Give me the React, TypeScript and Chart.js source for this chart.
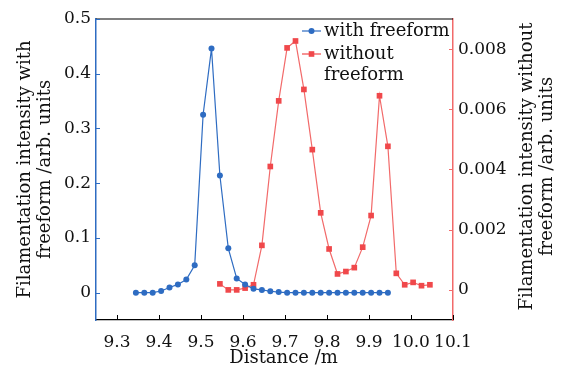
import React, { useEffect, useRef } from 'react';
import { Chart, registerables } from 'chart.js';

Chart.register(...registerables);

// ---- data ----
const X_WITH = [
  9.345, 9.365, 9.385, 9.405, 9.425, 9.445, 9.465, 9.485, 9.505, 9.525, 9.545,
  9.565, 9.585, 9.605, 9.625, 9.645, 9.665, 9.685, 9.705, 9.725, 9.745, 9.765,
  9.785, 9.805, 9.825, 9.845, 9.865, 9.885, 9.905, 9.925, 9.945,
];
const Y_WITH = [
  0, 0, 0, 0.003, 0.0095, 0.015, 0.024, 0.05, 0.325, 0.446, 0.214,
  0.081, 0.026, 0.015, 0.007, 0.005, 0.0025, 0.001, 0, 0, 0, 0,
  0, 0, 0, 0, 0, 0, 0, 0, 0,
];
const X_WITHOUT = [
  9.545, 9.565, 9.585, 9.605, 9.625, 9.645, 9.665, 9.685, 9.705, 9.725, 9.745,
  9.765, 9.785, 9.805, 9.825, 9.845, 9.865, 9.885, 9.905, 9.925, 9.945, 9.965,
  9.985, 10.005, 10.025, 10.045,
];
const Y_WITHOUT = [
  0.0002, 0.0, 0.0, 0.00006, 0.00017, 0.00148, 0.0041, 0.00628, 0.00804, 0.00827, 0.00666,
  0.00466, 0.00256, 0.00136, 0.00053, 0.00061, 0.00074, 0.00142, 0.00247, 0.00645, 0.00477, 0.00055,
  0.00017, 0.00025, 0.00014, 0.00017,
];
const X_TICKS = [9.3, 9.4, 9.5, 9.6, 9.7, 9.8, 9.9, 10.0, 10.1];
const X_TICK_LABELS = ['9.3', '9.4', '9.5', '9.6', '9.7', '9.8', '9.9', '10.0', '10.1'];
const Y_LEFT_TICKS = [0, 0.1, 0.2, 0.3, 0.4, 0.5];
const Y_LEFT_LABELS = ['0', '0.1', '0.2', '0.3', '0.4', '0.5'];
const Y_RIGHT_TICKS = [0, 0.002, 0.004, 0.006, 0.008];
const Y_RIGHT_LABELS = ['0', '0.002', '0.004', '0.006', '0.008'];
const SERIES_NAMES = ['with freeform', 'without freeform'];
const LEGEND_LINES = [['with freeform'], ['without', 'freeform']];
const X_TITLE = 'Distance /m';
const LEFT_TITLE = ['Filamentation intensity with', 'freeform /arb. units'];
const RIGHT_TITLE = ['Filamentation intensity without', 'freeform /arb. units'];

// ---- style ----
const FONT = 'DejaVu Serif';
const BLUE = '#2e6cc2';
const RED = '#f0484b';
const RED_AXIS = '#f26a6a';
const W = 565;
const H = 371;

export default function App() {
  const ref = useRef<HTMLCanvasElement | null>(null);

  useEffect(() => {
    const canvas = ref.current;
    if (!canvas) return;

    const decor = {
      id: 'decor',
      afterDraw(chart: any) {
        const { ctx, chartArea: ca, scales } = chart;
        ctx.save();
        // top frame
        ctx.strokeStyle = '#000';
        ctx.lineWidth = 1.2;
        ctx.beginPath();
        ctx.moveTo(ca.left, ca.top);
        ctx.lineTo(ca.right, ca.top);
        ctx.stroke();
        // inward tick marks
        ctx.lineWidth = 1;
        ctx.strokeStyle = '#000';
        X_TICKS.forEach((v) => {
          const px = Math.round(scales.x.getPixelForValue(v)) + 0.5;
          ctx.beginPath();
          ctx.moveTo(px, ca.bottom);
          ctx.lineTo(px, ca.bottom - 5);
          ctx.stroke();
        });
        ctx.strokeStyle = BLUE;
        Y_LEFT_TICKS.forEach((v) => {
          const py = Math.round(scales.y.getPixelForValue(v)) + 0.5;
          ctx.beginPath();
          ctx.moveTo(ca.left, py);
          ctx.lineTo(ca.left + 4, py);
          ctx.stroke();
        });
        ctx.strokeStyle = RED_AXIS;
        Y_RIGHT_TICKS.forEach((v) => {
          const py = Math.round(scales.y1.getPixelForValue(v)) + 0.5;
          ctx.beginPath();
          ctx.moveTo(ca.right, py);
          ctx.lineTo(ca.right - 4, py);
          ctx.stroke();
        });

        ctx.fillStyle = '#111';
        ctx.font = `18px "${FONT}"`;
        ctx.textAlign = 'center';
        ctx.textBaseline = 'middle';
        // x axis title
        ctx.fillText(X_TITLE, (ca.left + ca.right) / 2 + 9, 358);

        // right axis title (reads bottom to top)
        ctx.save();
        ctx.translate(527, (ca.top + ca.bottom) / 2 - 3);
        ctx.rotate(-Math.PI / 2);
        RIGHT_TITLE.forEach((t, i) => ctx.fillText(t, 0, i * 20));
        ctx.restore();

        // legend
        const lx0 = 302;
        const lx1 = 321;
        const tx = 324;
        const rows = [31, 54];
        const lh = 21;
        const colors = [BLUE, RED];
        ctx.textAlign = 'left';
        LEGEND_LINES.forEach((lines, i) => {
          const y = rows[i];
          ctx.strokeStyle = colors[i];
          ctx.lineWidth = 1.2;
          ctx.beginPath();
          ctx.moveTo(lx0, y);
          ctx.lineTo(lx1, y);
          ctx.stroke();
          ctx.fillStyle = colors[i];
          const cx = (lx0 + lx1) / 2;
          if (i === 0) {
            ctx.beginPath();
            ctx.arc(cx, y, 3, 0, Math.PI * 2);
            ctx.fill();
          } else {
            ctx.fillRect(cx - 2.8, y - 2.8, 5.6, 5.6);
          }
          ctx.fillStyle = '#111';
          lines.forEach((t, j) => ctx.fillText(t, tx, y + j * lh));
        });
        ctx.restore();
      },
    };

    const tickFont = { family: FONT, size: 17 };
    const titleFont = { family: FONT, size: 18, lineHeight: 1.12 };

    const chart = new Chart(canvas, {
      type: 'line',
      data: {
        datasets: [
          {
            label: SERIES_NAMES[0],
            data: X_WITH.map((x, i) => ({ x, y: Y_WITH[i] })),
            yAxisID: 'y',
            borderColor: BLUE,
            backgroundColor: BLUE,
            borderWidth: 1.2,
            pointRadius: 3,
            pointBorderWidth: 0,
            pointStyle: 'circle',
            tension: 0,
          },
          {
            label: SERIES_NAMES[1],
            data: X_WITHOUT.map((x, i) => ({ x, y: Y_WITHOUT[i] })),
            yAxisID: 'y1',
            borderColor: RED_AXIS,
            backgroundColor: RED,
            borderWidth: 1.2,
            pointRadius: 4,
            pointBorderWidth: 0,
            pointStyle: 'rect',
            tension: 0,
          },
        ],
      },
      options: {
        animation: false,
        responsive: false,
        maintainAspectRatio: false,
        devicePixelRatio: 1,
        layout: { padding: { top: 19, left: 0, right: 0, bottom: 0 } },
        plugins: {
          legend: { display: false },
          tooltip: { enabled: false },
          title: { display: false },
        },
        scales: {
          x: {
            type: 'linear',
            position: 'bottom',
            min: 9.25,
            max: 10.1,
            afterBuildTicks: (s: any) => {
              s.ticks = X_TICKS.map((v) => ({ value: v }));
            },
            afterFit: (s: any) => {
              s.height = 51;
            },
            ticks: {
              font: tickFont,
              color: '#111',
              padding: 12,
              maxRotation: 0,
              autoSkip: false,
              callback: (v: any) => {
                const i = X_TICKS.findIndex((t) => Math.abs(t - v) < 1e-6);
                return i >= 0 ? X_TICK_LABELS[i] : '';
              },
            },
            grid: { display: false, drawTicks: false },
            border: { display: true, color: '#000', width: 1.2 },
            title: { display: false },
          },
          y: {
            type: 'linear',
            position: 'left',
            min: -0.05,
            max: 0.5,
            afterBuildTicks: (s: any) => {
              s.ticks = Y_LEFT_TICKS.map((v) => ({ value: v }));
            },
            afterFit: (s: any) => {
              s.width = 96;
            },
            ticks: {
              font: tickFont,
              color: '#111',
              padding: 5,
              autoSkip: false,
              callback: (v: any) => {
                const i = Y_LEFT_TICKS.findIndex((t) => Math.abs(t - v) < 1e-9);
                return i >= 0 ? Y_LEFT_LABELS[i] : '';
              },
            },
            grid: { display: false, drawTicks: false },
            border: { display: true, color: BLUE, width: 1.5 },
            title: {
              display: true,
              text: LEFT_TITLE,
              font: titleFont,
              color: '#111',
              padding: { top: 15, bottom: 0 },
            },
          },
          y1: {
            type: 'linear',
            position: 'right',
            min: -0.001,
            max: 0.009,
            afterBuildTicks: (s: any) => {
              s.ticks = Y_RIGHT_TICKS.map((v) => ({ value: v }));
            },
            afterFit: (s: any) => {
              s.width = 112;
            },
            ticks: {
              font: tickFont,
              color: '#111',
              padding: 5,
              autoSkip: false,
              callback: (v: any) => {
                const i = Y_RIGHT_TICKS.findIndex((t) => Math.abs(t - v) < 1e-9);
                return i >= 0 ? Y_RIGHT_LABELS[i] : '';
              },
            },
            grid: { display: false, drawTicks: false },
            border: { display: true, color: RED_AXIS, width: 1.5 },
            title: { display: false },
          },
        },
      },
      plugins: [decor],
    } as any);

    return () => chart.destroy();
  }, []);

  return (
    <div style={{ position: 'fixed', left: 0, top: 0, width: W, height: H, background: '#fff' }}>
      <canvas ref={ref} width={W} height={H} style={{ width: W, height: H, display: 'block' }} />
    </div>
  );
}
